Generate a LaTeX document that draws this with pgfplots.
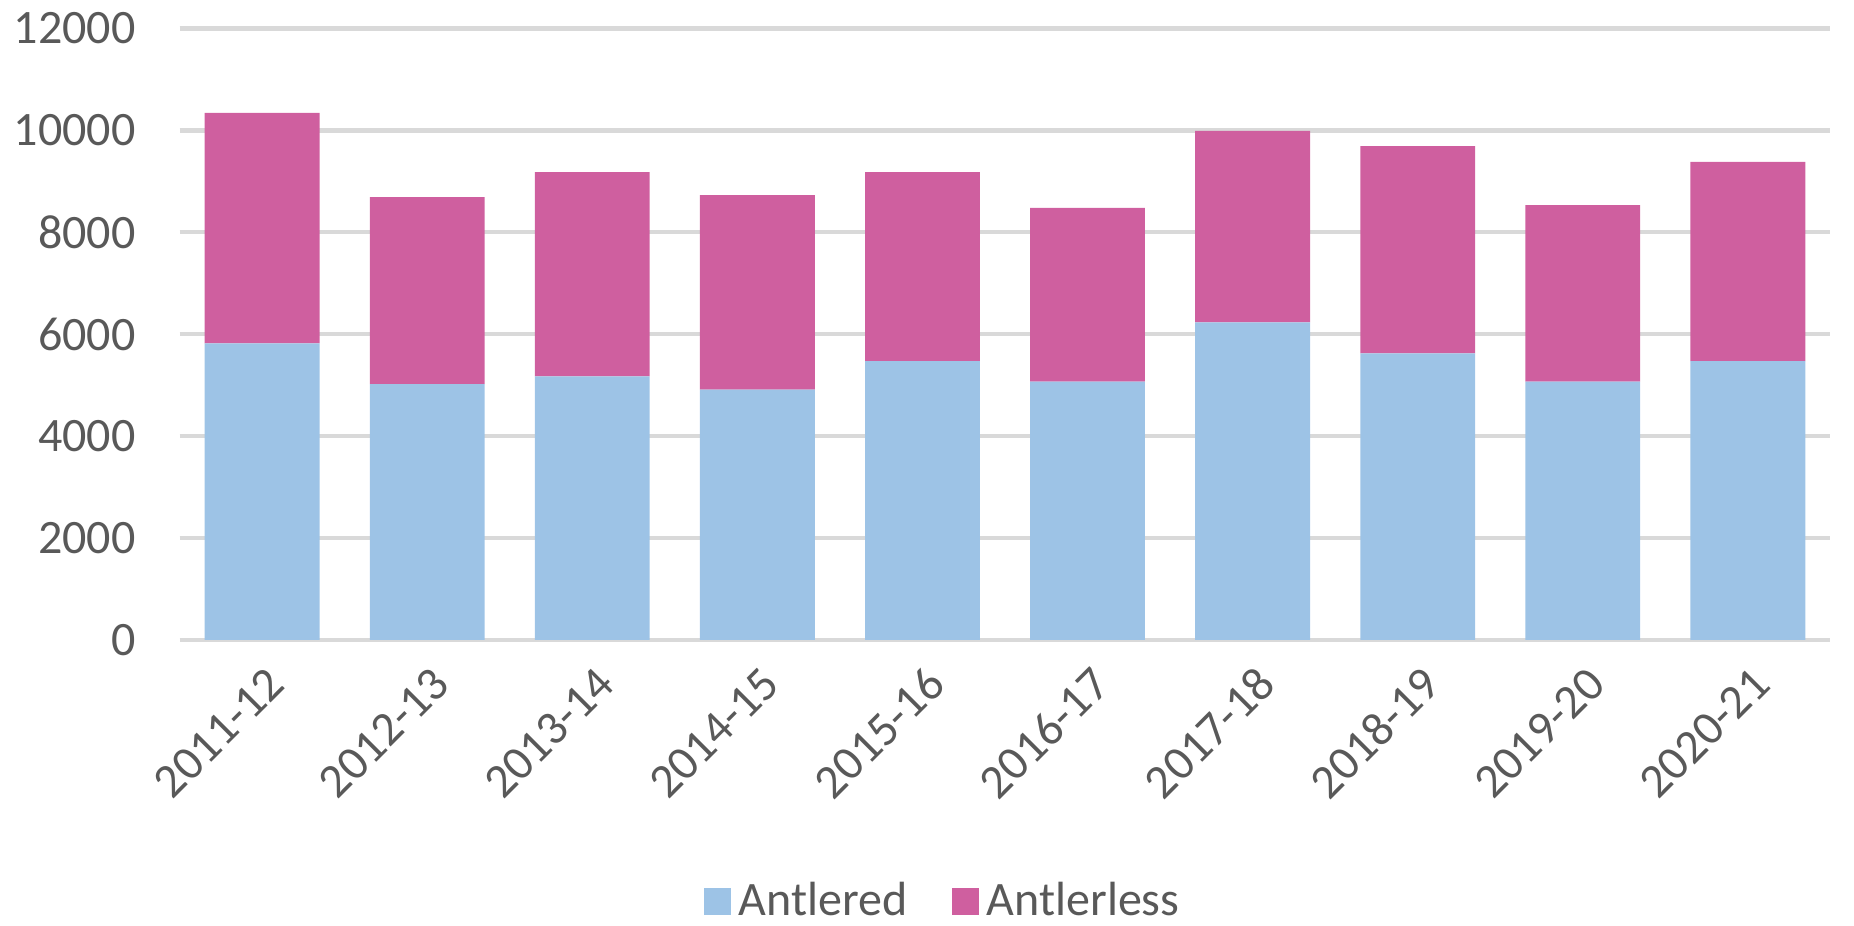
\documentclass[border=0pt]{standalone}
\usepackage{pgfplots}
\pgfplotsset{compat=1.18}
\usepackage{fontspec}
\setmainfont{Carlito}
\definecolor{antlered}{HTML}{9DC3E6}
\definecolor{antlerless}{HTML}{CF5F9F}
\definecolor{gridgray}{HTML}{D9D9D9}
\definecolor{txtgray}{HTML}{595959}
\begin{document}
\begin{tikzpicture}
\path[use as bounding box] (-44.9pt,-71.3pt) rectangle (418.6pt,159.95pt);
\begin{axis}[
  at={(0,0)}, anchor=south west,
  scale only axis,
  width=412.7pt, height=152.85pt,
  ybar stacked, bar width=28.7pt,
  xmin=-0.5, xmax=9.5,
  ymin=0, ymax=12000,
  ytick={0,2000,...,12000},
  scaled y ticks=false,
  xtick=data,
  xticklabels={2011-12,2012-13,2013-14,2014-15,2015-16,2016-17,2017-18,2018-19,2019-20,2020-21},
  axis line style={draw=none},
  tick style={draw=none},
  ymajorgrids,
  grid style={gridgray, line width=1.1pt},
  /pgf/number format/assume math mode=true,
  /pgf/number format/1000 sep={},
  ticklabel style={font=\fontsize{12}{14}\selectfont, text=txtgray},
  yticklabel style={xshift=-7.5pt},
  xticklabel style={rotate=45, anchor=east, yshift=-8.8pt, xshift=-0.5pt},
  legend columns=2,
  legend style={draw=none, at={(0.464,-0.428)}, anchor=center,
    font=\fontsize{12}{14}\selectfont, text=txtgray,
    /tikz/every even column/.append style={column sep=9pt}},
  legend cell align=left,
]
\addplot[fill=antlered, draw=none, area legend,
  legend image code/.code={\fill[antlered] (0pt,-3.4pt) rectangle (6.8pt,3.4pt);}]
  coordinates {(0,5820) (1,5020) (2,5170) (3,4910) (4,5470) (5,5070) (6,6230) (7,5620) (8,5070) (9,5470)};
\addplot[fill=antlerless, draw=none, area legend,
  legend image code/.code={\fill[antlerless] (0pt,-3.4pt) rectangle (6.8pt,3.4pt);}]
  coordinates {(0,4520) (1,3670) (2,4010) (3,3820) (4,3710) (5,3410) (6,3760) (7,4070) (8,3460) (9,3910)};
\legend{Antlered,Antlerless}
\end{axis}
\end{tikzpicture}
\end{document}
